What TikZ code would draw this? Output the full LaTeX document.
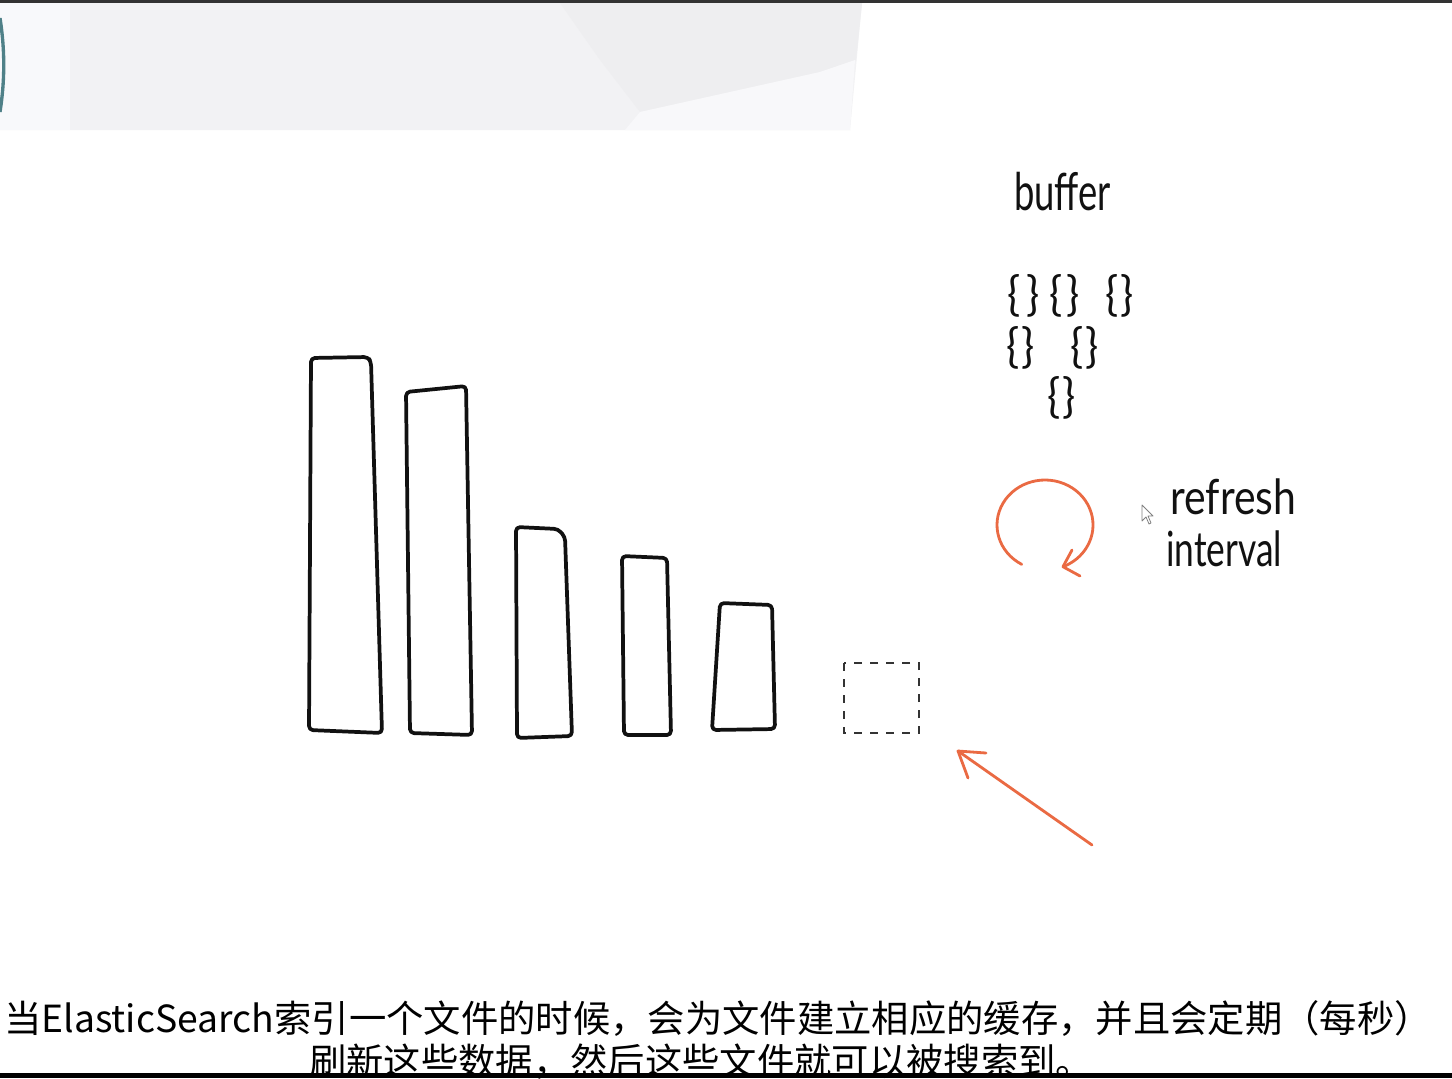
\documentclass[tikz,border=0pt]{standalone}
\usepackage{fontspec}
\newfontfamily\cjk{Noto Sans CJK SC}
\newfontfamily\hand{Lato}
\usetikzlibrary{arrows.meta}
\definecolor{pen}{HTML}{111111}
\definecolor{ora}{HTML}{EA6A43}
\definecolor{bgA}{HTML}{F2F2F4}
\definecolor{bgL}{HTML}{F8F9FB}
\definecolor{bgD}{HTML}{EEEEF0}
\definecolor{bgW}{HTML}{F8F8FA}
\definecolor{topbar}{HTML}{333333}
\definecolor{tealedge}{HTML}{4F8188}
\tikzset{
  bar/.style={draw=pen, line width=2.8pt, line join=round, line cap=round, rounded corners=3pt},
  dashbox/.style={draw=topbar, line width=1.1pt, dash pattern=on 6pt off 6pt},
  orastroke/.style={draw=ora, line width=2.1pt, line cap=round, line join=round},
  hand/.style={font=\hand\fontsize{26}{26}\selectfont, inner sep=0pt, text=pen},
  brace/.style={font=\hand\fontsize{22}{22}\selectfont, inner sep=0pt, text=pen},
  caption/.style={font=\cjk\fontsize{28}{30}\selectfont, inner sep=0pt, text=black}
}
\newcommand{\bracepair}[1]{\scalebox{1.5}[1.6]{\{\hspace{#1}\}}}
\begin{document}
\begin{tikzpicture}[x=0.75pt,y=-0.75pt]
\useasboundingbox (0,0) rectangle (1452,1078);
\clip (0,0) rectangle (1452,1078);
\fill[white] (0,0) rectangle (1452,1078);
% top background (video frame)
\fill[bgA] (0,3) -- (862,3) -- (850,130) -- (0,130) -- cycle;
\fill[bgL] (0,3) rectangle (70,130);
\fill[bgD] (560,3) -- (862,3) -- (856,60) -- (820,72) -- (640,112) -- (600,60) -- cycle;
\fill[bgW] (625,130) -- (640,112) -- (820,72) -- (855,60) -- (850,130) -- cycle;
\fill[topbar] (0,0) rectangle (1452,3);
\draw[tealedge, line width=2.5pt] (0,18) .. controls (5,50) and (5,80) .. (0,112);
% bars
\draw[bar] (311,358) -- (368,357) -- (371,362) -- (382,733) -- (309,730) -- cycle;
\draw[bar] (406,392) -- (466,386) -- (472,735) -- (410,733) -- cycle;
\draw[bar] (516,527) -- (558,529) -- (565,537) -- (572,736) -- (517,738) -- cycle;
\draw[bar] (622,556) -- (667,558) -- (671,735) -- (624,735) -- cycle;
\draw[bar] (720,603) -- (772,605) -- (775,729) -- (712,730) -- cycle;
% empty new segment
\draw[dashbox] (844,663) rectangle (919,733);
\coordinate (newseg) at (958,751);
\coordinate (atail) at (1092,845);
\draw[orastroke] (atail) -- (newseg);
\draw[orastroke] (986,753) -- (newseg) -- (968,778);
% buffer
\node[hand, anchor=base west] (buf) at (1014,210) {\scalebox{1.05}[1.5]{buffer}};
\node[brace, anchor=base] (b1) at (1024,310) {\bracepair{3pt}};
\node[brace, anchor=base] (b2) at (1065,310) {\bracepair{2pt}};
\node[brace, anchor=base] (b3) at (1120,310) {\bracepair{1pt}};
\node[brace, anchor=base] (b4) at (1021,362) {\bracepair{1pt}};
\node[brace, anchor=base] (b5) at (1085,362) {\bracepair{1pt}};
\node[brace, anchor=base] (b6) at (1062,412) {\bracepair{1pt}};
% refresh loop
\draw[orastroke] (1045,525) ++(119:48 and 45) arc[start angle=119, end angle=428, x radius=48, y radius=45] coordinate (loopend);
\draw[orastroke] (1072,550) -- (loopend) -- (1080,576);
% mouse cursor
\draw[gray, fill=white, line width=0.6pt, line join=round] (1142,505) -- (1142,521) -- (1146,517) -- (1149,524) -- (1151,523) -- (1148,516) -- (1153,516) -- cycle;
\node[hand, anchor=base west] (refr) at (1170,514) {\scalebox{1.18}[1.4]{refresh}};
\node[hand, anchor=base west] (intv) at (1166,566) {\scalebox{1.02}[1.4]{interval}};
% caption
\node[caption, anchor=base] (cap1) at (718,1032) {当ElasticSearch索引一个文件的时候，会为文件建立相应的缓存，并且会定期（每秒）};
\node[caption, anchor=base] (cap2) at (701,1075) {刷新这些数据，然后这些文件就可以被搜索到。};
\fill[black] (0,1073) rectangle (1452,1078);
\end{tikzpicture}
\end{document}
